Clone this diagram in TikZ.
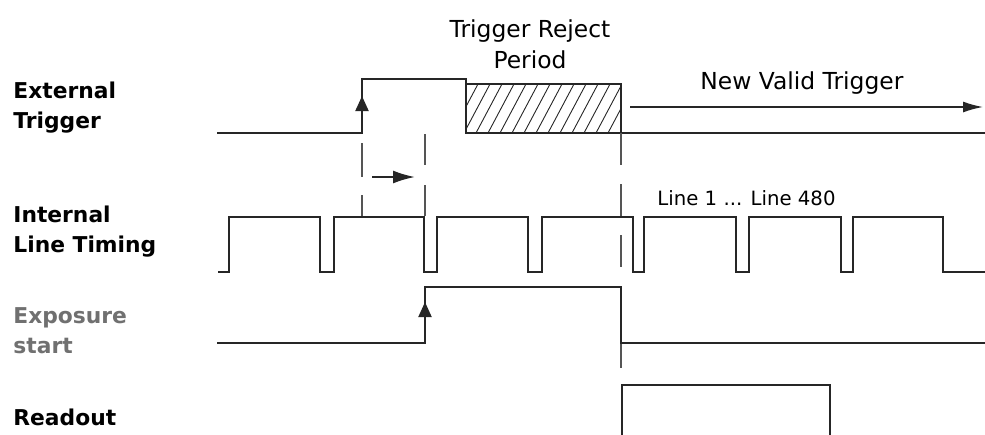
\documentclass[tikz,border=0pt]{standalone}
\usepackage{fontspec}
\setmainfont{DejaVu Sans}
\usepackage{xcolor}
\usetikzlibrary{arrows.meta,positioning}
\definecolor{sigdark}{RGB}{38, 38, 38}
\definecolor{guidegray}{RGB}{85, 85, 85}
\definecolor{labelgray}{RGB}{112, 112, 112}
\tikzset{
 rowlabel/.style={
 anchor=base west,
 inner sep=0pt,
 align=left,
 font=\fontsize{10.9}{15}\selectfont\bfseries
 },
 notelabel/.style={
 inner sep=0pt,
 font=\fontsize{11.7}{15.5}\selectfont
 },
 signal/.style={line width=1pt, draw=sigdark, line join=miter},
 guide/.style={line width=0.65pt, draw=guidegray},
 hatch/.style={line width=0.45pt, draw=sigdark},
 edgearrow/.style={-{Triangle[length=7.5pt, width=6.5pt]}, line width=1pt, draw=sigdark},
 notearrow/.style={-{Latex[length=10pt, width=5.5pt]}, line width=0.8pt, draw=sigdark}
}

\begin{document}
\begin{tikzpicture}[x=0.5pt, y=-0.5pt]
 \useasboundingbox (0,0) rectangle (985,434);

 % row labels (base = last line)
 \node[rowlabel] (exttrig) at (13,128) {External\\Trigger};
 \node[rowlabel] (intline) at (13,252) {Internal\\Line Timing};
 \node[rowlabel, text=labelgray] (expstart) at (13,353) {Exposure\\start};
 \node[rowlabel] (readout) at (13,425) {Readout};

 % notes
 \node[notelabel, anchor=base, align=center] (rejectlbl) at (530,68) {Trigger Reject\\Period};
 \node[notelabel, anchor=base west] (validlbl) at (700,89) {New Valid Trigger};
 \node[notelabel, anchor=base west, font=\fontsize{9.85}{12}\selectfont] (linelbl) at (657,205) {Line 1 ... Line 480};

 % external trigger
 \draw[signal] (217,133) -- (362,133) -- (362,79) -- (466,79) -- (466,133) -- (985,133);
 \draw[signal] (466,84) -- (621,84) -- (621,133);
 \begin{scope}
 \clip (466,84) rectangle (621,133);
 \foreach \h in {0,12,...,192}
 \draw[hatch] (440+\h,133) -- (466+\h,84);
 \end{scope}
 \coordinate (trigfoot) at (362,126);
 \coordinate (trigtip) at (362,96);
 \draw[edgearrow] (trigfoot) -- (trigtip);

 \coordinate (validstart) at (630,107);
 \coordinate (validend) at (983,107);
 \draw[notearrow] (validstart) -- (validend);

 % guide lines
 \draw[guide, dash pattern=on 17pt off 9pt] (362,143) -- (362,217);
 \draw[guide, dash pattern=on 15.5pt off 10pt] (425,134) -- (425,217);
 \draw[guide, dash pattern=on 16pt off 9.5pt] (621,133) -- (621,368);
 \coordinate (delaystart) at (372,177);
 \coordinate (delayend) at (415,177);
 \draw[notearrow, line width=1pt, -{Latex[length=11pt, width=6.5pt]}] (delaystart) -- (delayend);

 % internal line timing
 \draw[signal] (218,272)
 \foreach \r/\f in {229/320, 334/424, 437/528, 542/633, 644/736, 749/841, 853/943}
 { -- (\r,272) -- (\r,217) -- (\f,217) -- (\f,272) }
 -- (985,272);

 % exposure start
 \draw[signal] (217,343) -- (425,343) -- (425,287) -- (621,287) -- (621,343) -- (985,343);
 \coordinate (expfoot) at (425,330);
 \coordinate (exptip) at (425,302);
 \draw[edgearrow] (expfoot) -- (exptip);

 % readout
 \draw[signal] (622,440) -- (622,385) -- (830,385) -- (830,440);
\end{tikzpicture}
\end{document}
